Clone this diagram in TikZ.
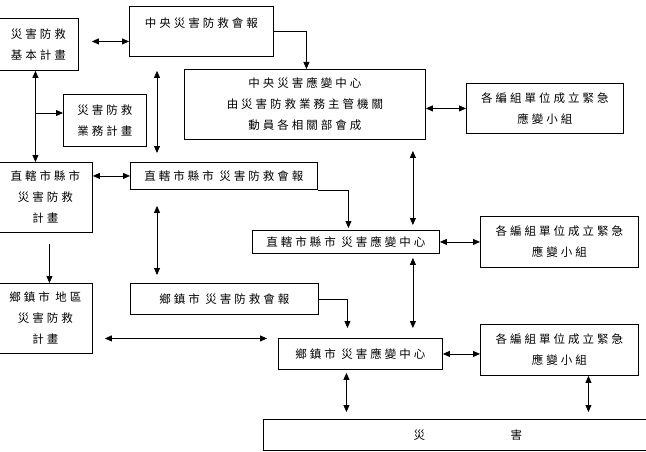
\documentclass[tikz,border=0pt]{standalone}
\usepackage{fontspec}
\usetikzlibrary{arrows.meta}
\newfontfamily\cjk[LetterSpace=26]{Noto Sans CJK TC}
\begin{document}
\begin{tikzpicture}[x=1pt,y=-1pt,
  box/.style={draw, line width=0.9pt, rectangle, inner sep=0pt, anchor=north west,
    align=center, font=\cjk\fontsize{11.5}{21}\selectfont},
  dbl/.style={{Triangle[length=7pt,width=6pt]}-{Triangle[length=7pt,width=6pt]}, line width=0.8pt},
  one/.style={-{Triangle[length=7pt,width=6pt]}, line width=0.8pt}]
\useasboundingbox (0,0) rectangle (646,452);
% boxes
\node[box, minimum width=80pt, minimum height=52pt] (A) at (-2,18) {災害防救\\基本計畫};
\node[box, minimum width=144pt, minimum height=50pt, text height=21pt, text depth=29pt] (B) at (129,6) {中央災害防救會報};
\node[box, minimum width=241pt, minimum height=70pt] (C) at (184,69) {中央災害應變中心\\由災害防救業務主管機關\\動員各相關部會成};
\node[box, minimum width=83pt, minimum height=52pt] (D) at (63,94) {災害防救\\業務計畫};
\node[box, minimum width=157pt, minimum height=50pt] (I1) at (466,83) {各編組單位成立緊急\\應變小組};
\node[box, minimum width=94pt, minimum height=70pt] (E) at (-2,162) {直轄市縣市\\災害防救\\計畫};
\node[box, minimum width=187pt, minimum height=27pt] (F) at (130,162) {直轄市縣市 災害防救會報};
\node[box, minimum width=187pt, minimum height=23pt] (G) at (252,230) {直轄市縣市 災害應變中心};
\node[box, minimum width=158pt, minimum height=51pt] (I2) at (480,216) {各編組單位成立緊急\\應變小組};
\node[box, minimum width=94pt, minimum height=70pt] (H) at (-2,283) {鄉鎮市 地區\\災害防救\\計畫};
\node[box, minimum width=188pt, minimum height=31pt] (J) at (130,283) {鄉鎮市 災害防救會報};
\node[box, minimum width=164pt, minimum height=31pt] (K) at (278,338) {鄉鎮市 災害應變中心};
\node[box, minimum width=158pt, minimum height=51pt] (I3) at (480,324) {各編組單位成立緊急\\應變小組};
\node[box, minimum width=409pt, minimum height=31pt] (L) at (263,419) {災\hspace{85.5pt}害};
% connectors
\draw[dbl, shorten <=13pt] ([yshift=3pt]A.east) -- ([yshift=3pt]A.east -| B.west);
\draw[one] (B.east) -| ([xshift=1.5pt]C.north);
\draw[dbl] ([yshift=-4pt]C.east) -- ([yshift=-4pt]C.east -| I1.west);
\draw[dbl] ([xshift=-3pt]A.south) -- ([xshift=-3pt]A.south |- E.north);
\coordinate (br) at (35,113);
\draw[one] (br) -- (br -| D.west);
\draw[dbl, shorten <=14pt, shorten >=9pt] ([xshift=28pt]B.south west) -- ([xshift=28pt]B.south west |- F.north);
\draw[dbl] (F.west) -- (F.west -| E.east);
\draw[one, shorten >=2pt] (F.south east) -| ([xshift=2.5pt]G.north);
\draw[dbl, shorten <=11pt, shorten >=5pt] ([xshift=-13pt]C.south east) -- ([xshift=-13pt]C.south east |- G.north);
\draw[dbl] (G.east) -- (I2.west);
\draw[dbl, shorten <=16pt, shorten >=8pt] ([xshift=27pt]F.south west) -- ([xshift=27pt]F.south west |- J.north);
\draw[one, shorten <=11pt] ([xshift=4pt]E.south) -- ([xshift=4pt]E.south |- H.north);
\draw[one, shorten >=10pt] (J.east) -| ([xshift=-13pt]K.north);
\draw[dbl, shorten <=4pt, shorten >=10pt] ([xshift=-27pt]G.south east) -- ([xshift=-27pt]G.south east |- K.north);
\draw[dbl, shorten <=12pt, shorten >=11pt] ([yshift=-20pt]H.east) -- ([yshift=-20pt]H.east -| K.west);
\draw[dbl] (K.east) -- (K.east -| I3.west);
\draw[dbl, shorten <=3pt, shorten >=7pt] ([xshift=-14pt]K.south) -- ([xshift=-14pt]K.south |- L.north);
\draw[dbl, shorten >=7pt] ([xshift=29pt]I3.south) -- ([xshift=29pt]I3.south |- L.north);
\end{tikzpicture}
\end{document}
